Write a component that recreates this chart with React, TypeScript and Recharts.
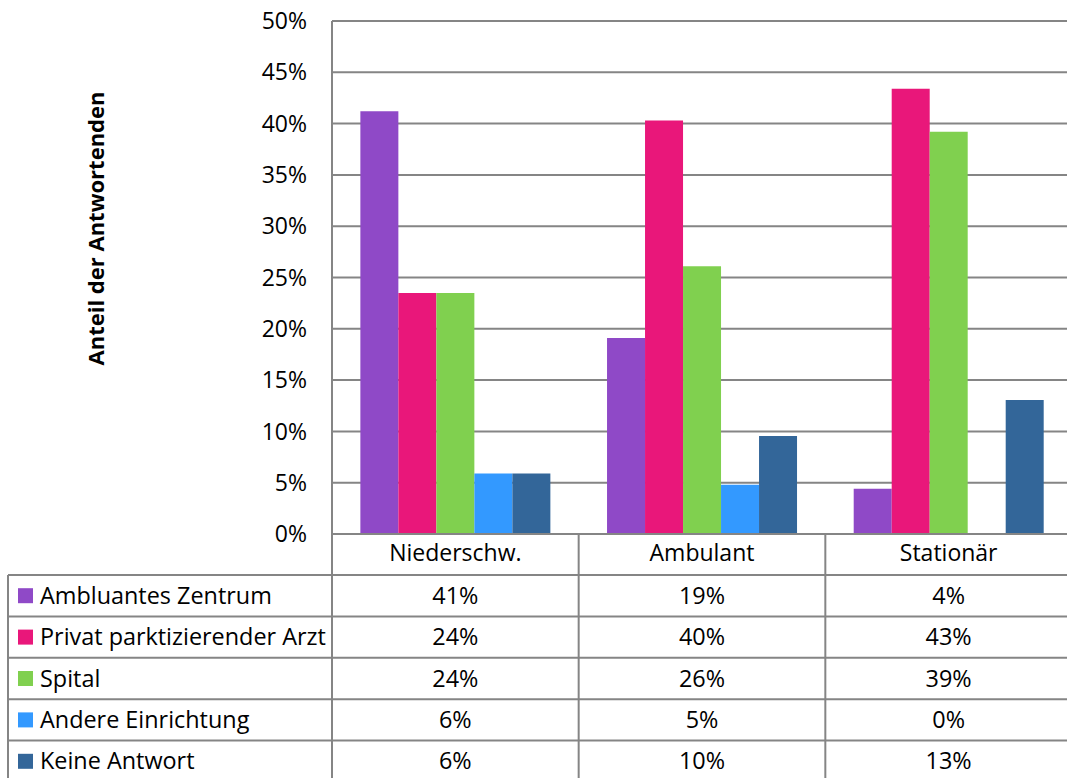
import React from 'react';
import { BarChart, Bar, XAxis, YAxis, CartesianGrid } from 'recharts';

const categories = ['Niederschw.', 'Ambulant', 'Stationär'];
const seriesNames = [
  'Ambluantes Zentrum',
  'Privat parktizierender Arzt',
  'Spital',
  'Andere Einrichtung',
  'Keine Antwort',
];
const ambulantesZentrum = [41.2, 19.1, 4.4];
const privatArzt = [23.5, 40.3, 43.4];
const spital = [23.5, 26.1, 39.2];
const andereEinrichtung = [5.9, 4.8, 0];
const keineAntwort = [5.9, 9.55, 13.06];
const yTicks = [0, 5, 10, 15, 20, 25, 30, 35, 40, 45, 50];
const seriesColors = ['#8f49c7', '#e9177a', '#80d04f', '#3399ff', '#336699'];
const yAxisTitle = 'Anteil der Antwortenden';

const seriesValues = [ambulantesZentrum, privatArzt, spital, andereEinrichtung, keineAntwort];
const seriesKeys = seriesNames.map((_, i) => `s${i}`);
const data = categories.map((c, ci) => {
  const row: Record<string, string | number> = { category: c };
  seriesKeys.forEach((k, si) => {
    row[k] = seriesValues[si][ci];
  });
  return row;
});

// layout
const W = 1067;
const H = 778;
const CHART_W = 1072;
const PLOT_LEFT = 332;
const PLOT_TOP = 21;
const PLOT_BOTTOM = 534;
const XAXIS_H = 41;
const BAND = (CHART_W - PLOT_LEFT) / categories.length;
const ROW_TOP = PLOT_BOTTOM + XAXIS_H;
const ROW_H = 41.4;
const TABLE_LEFT = 8;
const GRID = '#858585';
const FONT = "'Open Sans', sans-serif";
const TABLE_FONT = 23.4;

export default function App() {
  return (
    <div
      style={{
        position: 'absolute',
        left: 0,
        top: 0,
        width: W,
        height: H,
        overflow: 'hidden',
        background: '#fff',
        fontFamily: FONT,
      }}
    >
      <BarChart
        width={CHART_W}
        height={H}
        data={data}
        margin={{ top: PLOT_TOP, right: 0, bottom: H - PLOT_BOTTOM - XAXIS_H, left: 0 }}
        barCategoryGap="11.5%"
        barGap={0}
      >
        <CartesianGrid vertical={false} stroke={GRID} strokeWidth={2} />
        <XAxis
          dataKey="category"
          height={XAXIS_H}
          axisLine={{ stroke: GRID, strokeWidth: 2 }}
          tickLine={false}
          tickSize={0}
          tickMargin={11}
          tick={{ fontSize: 23, fill: '#000', fontFamily: FONT }}
          interval={0}
        />
        <YAxis
          width={PLOT_LEFT}
          domain={[0, 50]}
          ticks={yTicks}
          interval={0}
          tickFormatter={(v: number) => `${v}%`}
          axisLine={{ stroke: GRID, strokeWidth: 2 }}
          tickLine={false}
          tickSize={0}
          tickMargin={25}
          tick={{ fontSize: 23, fill: '#000', fontFamily: FONT }}
        />
        {seriesKeys.map((k, i) => (
          <Bar key={k} dataKey={k} name={seriesNames[i]} fill={seriesColors[i]} isAnimationActive={false} />
        ))}
      </BarChart>
      <svg
        width={W}
        height={H}
        style={{ position: 'absolute', left: 0, top: 0, pointerEvents: 'none' }}
        fontFamily={FONT}
      >
        <text
          x={104}
          y={228.5}
          transform="rotate(-90 104 228.5)"
          textAnchor="middle"
          fontSize={22}
          fontWeight="bold"
          fill="#000"
        >
          {yAxisTitle}
        </text>
        {categories.map((_, i) => (
          <line
            key={`v${i}`}
            x1={PLOT_LEFT + i * BAND}
            x2={PLOT_LEFT + i * BAND}
            y1={PLOT_BOTTOM}
            y2={H}
            stroke={GRID}
            strokeWidth={2}
          />
        ))}
        <line x1={TABLE_LEFT} x2={TABLE_LEFT} y1={ROW_TOP} y2={H} stroke={GRID} strokeWidth={2} />
        {seriesNames.map((name, si) => {
          const top = ROW_TOP + si * ROW_H;
          const mid = top + ROW_H / 2;
          return (
            <g key={name}>
              <line x1={TABLE_LEFT} x2={W} y1={top} y2={top} stroke={GRID} strokeWidth={2} />
              <rect x={18} y={mid - 7.5} width={15} height={15} fill={seriesColors[si]} />
              <text x={40} y={mid + 8} fontSize={TABLE_FONT} fill="#000">
                {name}
              </text>
              {categories.map((c, ci) => (
                <text
                  key={c}
                  x={PLOT_LEFT + (ci + 0.5) * BAND}
                  y={mid + 8}
                  fontSize={TABLE_FONT}
                  fill="#000"
                  textAnchor="middle"
                >
                  {`${Math.round(seriesValues[si][ci])}%`}
                </text>
              ))}
            </g>
          );
        })}
      </svg>
    </div>
  );
}
